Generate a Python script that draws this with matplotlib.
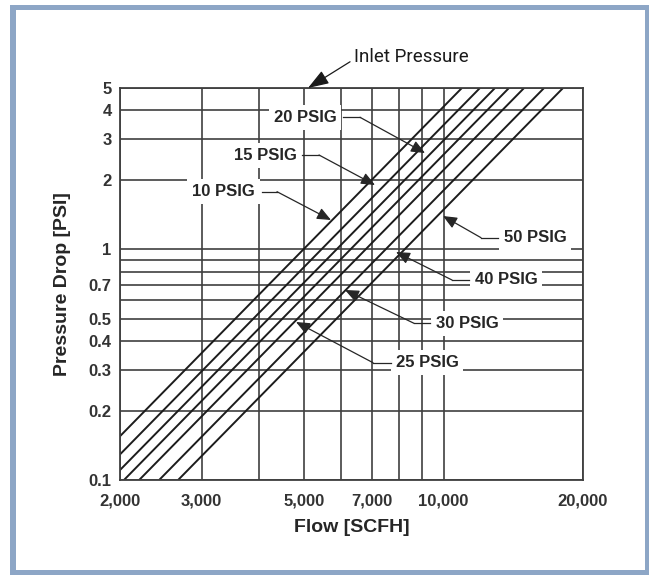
import numpy as np
import matplotlib
matplotlib.use("Agg")
import matplotlib.pyplot as plt
from matplotlib.patches import Rectangle
from matplotlib.ticker import FixedLocator, FixedFormatter, NullFormatter

# ---------------- data ----------------
inlet_labels = ["10 PSIG", "15 PSIG", "20 PSIG", "25 PSIG", "30 PSIG", "40 PSIG", "50 PSIG"]
# flow (SCFH) where each straight log-log line meets 0.1 psi and 5 psi
drop_ends = [0.1, 5.0]
flow_at_0p1_psi = [1615, 1765, 1905, 2040, 2200, 2430, 2670]
flow_at_5_psi = [10950, 11980, 12910, 13840, 14920, 16480, 18110]

x_major = [2000, 3000, 5000, 7000, 10000, 20000]
x_major_labels = ["2,000", "3,000", "5,000", "7,000", "10,000", "20,000"]
x_minor = [4000, 6000, 8000, 9000]
y_major = [0.1, 0.2, 0.3, 0.4, 0.5, 0.7, 1, 2, 3, 4, 5]
y_major_labels = ["0.1", "0.2", "0.3", "0.4", "0.5", "0.7", "1", "2", "3", "4", "5"]
y_minor = [0.6, 0.8, 0.9]

# ---------------- layout helpers (pixel -> axes fraction) ----------------
AX_L, AX_R, AX_T, AX_B = 120, 583, 88, 480
W, H = 649, 575


def af(x, y):
    return ((x - AX_L) / (AX_R - AX_L), (AX_B - y) / (AX_B - AX_T))


# label text centre, leader start x, bend x, arrow tip (pixels)
label_layout = {
    "10 PSIG": ((223.5, 191.7), 262, 277, (331, 220)),
    "15 PSIG": ((265, 155), 302, 319, (375, 185)),
    "20 PSIG": ((305, 117.3), 343, 360, (425, 153)),
    "50 PSIG": ((535, 237.7), 498, 481, (443, 216)),
    "40 PSIG": ((506, 280), 469, 452, (396, 252)),
    "30 PSIG": ((467, 323.3), 430, 414, (345, 290)),
    "25 PSIG": ((427, 362.7), 391, 373, (296, 322)),
}

BOLD = "Liberation Sans"
INK = "#262626"
GRID = "#3f3f3f"

fig = plt.figure(figsize=(W / 100, H / 100), dpi=100)
fig.patch.set_facecolor("white")

# outer light-blue frame
fig.patches.append(Rectangle((10 / W, 0), (W - 10) / W, 570 / H, transform=fig.transFigure,
                             fc="#8DA6C6", ec="none", zorder=-3))
fig.patches.append(Rectangle((16 / W, 5 / H), (645 - 16) / W, (565 - 5) / H, transform=fig.transFigure,
                             fc="white", ec="none", zorder=-2))

ax = fig.add_axes([AX_L / W, (H - AX_B) / H, (AX_R - AX_L) / W, (AX_B - AX_T) / H])
ax.set_facecolor("none")
ax.set_xscale("log")
ax.set_yscale("log")
ax.set_xlim(2000, 20000)
ax.set_ylim(0.1, 5)

ax.xaxis.set_major_locator(FixedLocator(x_major))
ax.xaxis.set_major_formatter(FixedFormatter(x_major_labels))
ax.xaxis.set_minor_locator(FixedLocator(x_minor))
ax.xaxis.set_minor_formatter(NullFormatter())
ax.yaxis.set_major_locator(FixedLocator(y_major))
ax.yaxis.set_major_formatter(FixedFormatter(y_major_labels))
ax.yaxis.set_minor_locator(FixedLocator(y_minor))
ax.yaxis.set_minor_formatter(NullFormatter())

ax.set_axisbelow(True)
ax.grid(True, which="both", color=GRID, lw=1.2)
for s in ax.spines.values():
    s.set_color(GRID)
    s.set_linewidth(1.3)
ax.tick_params(which="both", length=0)
ax.tick_params(axis="x", pad=10)
ax.tick_params(axis="y", pad=6)
for lab in ax.get_xticklabels() + ax.get_yticklabels():
    lab.set_fontfamily(BOLD)
    lab.set_fontweight("bold")
    lab.set_fontsize(12)
    lab.set_color("#333333")

# ---------------- data lines ----------------
for q0, q5 in zip(flow_at_0p1_psi, flow_at_5_psi):
    ax.plot([q0, q5], drop_ends, color="#1c1c1c", lw=1.4, solid_capstyle="butt", zorder=2)

# ---------------- axis labels ----------------
ax.set_xlabel("Flow [SCFH]", fontfamily=BOLD, fontweight="bold", fontsize=14, color=INK)
ax.xaxis.set_label_coords(0.5, (AX_B - 519) / (AX_B - AX_T))
ax.set_ylabel("Pressure Drop [PSI]", fontfamily=BOLD, fontweight="bold", fontsize=14, color=INK)
ax.yaxis.set_label_coords((71 - AX_L) / (AX_R - AX_L), 0.5)

# ---------------- PSIG labels with leaders ----------------
for name in inlet_labels:
    (tx, ty), sx, bx, (px, py) = label_layout[name]
    ax.text(*af(tx, ty), name, transform=ax.transAxes, ha="center", va="center",
            fontfamily=BOLD, fontweight="bold", fontsize=12, color=INK, zorder=4,
            bbox=dict(boxstyle="square,pad=0.3", fc="white", ec="none"))
    ax.plot([af(sx, ty)[0], af(bx, ty)[0]], [af(sx, ty)[1], af(bx, ty)[1]],
            transform=ax.transAxes, color=INK, lw=0.9, zorder=5)
    ax.annotate("", xy=af(px, py), xytext=af(bx, ty), xycoords="axes fraction",
                textcoords="axes fraction",
                arrowprops=dict(arrowstyle="-|>,head_length=0.7,head_width=0.3",
                                mutation_scale=12, color=INK, lw=0.9,
                                shrinkA=0, shrinkB=0), zorder=5)

# ---------------- Inlet Pressure annotation ----------------
ax.annotate("Inlet Pressure", xy=af(308, 88), xytext=af(354, 57.5),
            xycoords="axes fraction", textcoords="axes fraction",
            ha="left", va="center", fontfamily="Roboto", fontsize=13.5, color="#1a1a1a",
            annotation_clip=False,
            arrowprops=dict(arrowstyle="-|>,head_length=0.8,head_width=0.28",
                            mutation_scale=16, color="#1a1a1a", lw=0.9,
                            shrinkA=1, shrinkB=0, relpos=(0, 0.4)))

fig.savefig("out.png", dpi=100)
